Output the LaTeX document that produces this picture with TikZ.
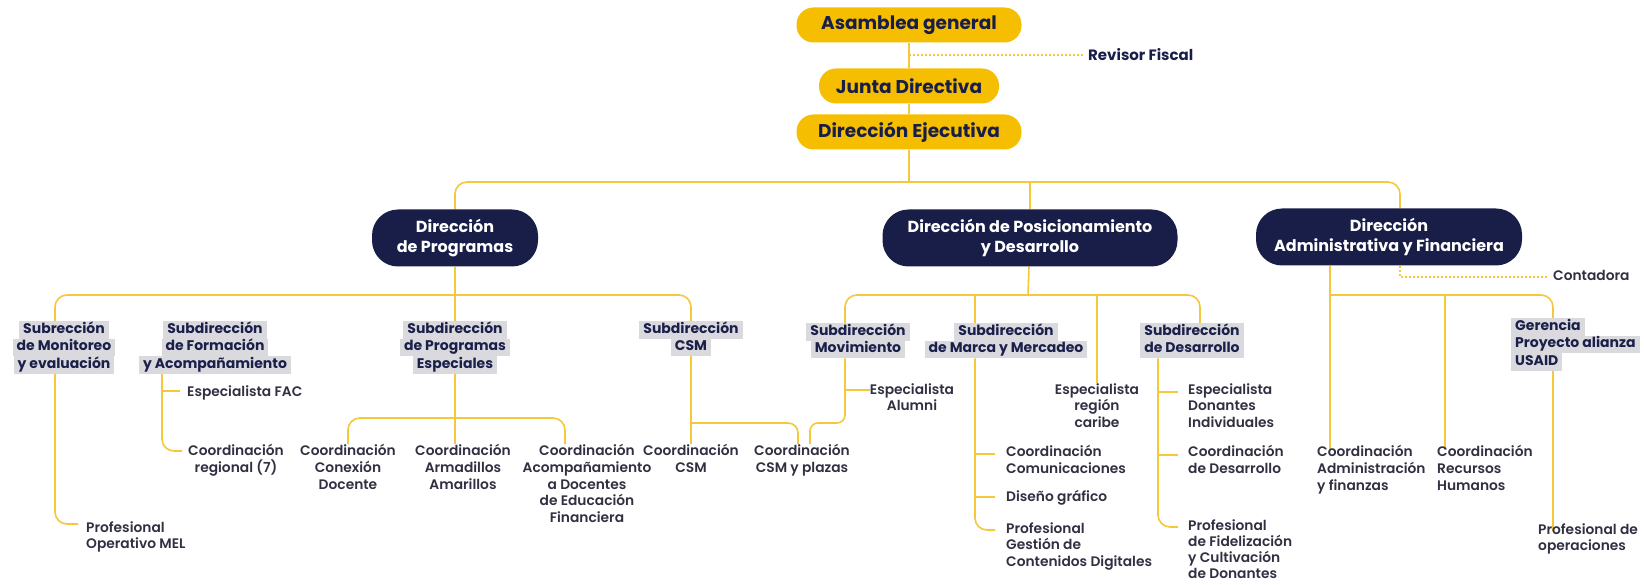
\documentclass[tikz,border=0pt]{standalone}
\usepackage{fontspec}
\setmainfont{Poppins}
\IfFontExistsTF{Poppins SemiBold}{\newfontfamily\semif{Poppins SemiBold}}{\newfontfamily\semif{Poppins}}
\usetikzlibrary{backgrounds}
\definecolor{pillY}{RGB}{246,190,0}
\definecolor{navy}{RGB}{24,30,72}
\definecolor{lineY}{RGB}{245,200,60}
\definecolor{hlgray}{RGB}{218,218,222}
\definecolor{txt}{RGB}{48,48,66}
\definecolor{subnavy}{RGB}{27,32,74}
\newcommand{\hl}[1]{{\setlength{\fboxsep}{0pt}\colorbox{hlgray}{\rule[-5.5pt]{0pt}{17.5pt}\hspace{4pt}#1\hspace{4pt}}}}
\tikzset{
  conn/.style={draw=lineY, line width=1.6pt},
  dotc/.style={draw=lineY, line width=1.4pt, dash pattern=on 2pt off 2pt},
  rc/.style={rounded corners=12pt},
  ypill/.style={fill=pillY, rounded corners=17pt, minimum height=35pt, text=navy, inner xsep=6pt,
    font=\bfseries\fontsize{18.5}{20}\selectfont},
  npill/.style={fill=navy, text=white, rounded corners=26pt, minimum height=57pt, align=center,
    font=\bfseries\fontsize{16}{20}\selectfont},
  subbox/.style={inner sep=0pt, align=center, text=subnavy, font=\bfseries\fontsize{14}{17.5}\selectfont},
  lbl/.style={inner sep=0pt, text=txt, font=\semif\fontsize{13.8}{16.8}\selectfont, execute at begin node=\strut},
  side/.style={inner sep=0pt, inner xsep=5pt, text=navy, font=\bfseries\fontsize{15}{17}\selectfont},
}
\begin{document}
\begin{tikzpicture}[x=1pt,y=-1pt]
\useasboundingbox (0,0) rectangle (1644,585);
% top pills
\node[ypill, minimum width=225pt] (AG) at (909,25) {Asamblea general};
\node[ypill, minimum width=180pt] (JD) at (909,86) {Junta Directiva};
\node[ypill, minimum width=225pt] (DE) at (909,132) {Dirección Ejecutiva};
\node[side, anchor=west] (RF) at (1083,55) {Revisor Fiscal};
% directions
\node[npill, minimum width=166pt] (DP) at (455,238) {Dirección\\de Programas};
\node[npill, minimum width=295pt] (DPD) at (1030,238) {Dirección de Posicionamiento\\y Desarrollo};
\node[npill, minimum width=266pt] (DAF) at (1389,237) {Dirección\\Administrativa y Financiera};
\node[lbl, anchor=west, inner xsep=5pt] (CONT) at (1548,277) {Contadora};
% sub-directions
\node[subbox, anchor=north] (SME) at (64,321) {\hl{Subrección}\\\hl{de Monitoreo}\\\hl{y evaluación}};
\node[subbox, anchor=north] (SFA) at (215,321) {\hl{Subdirección}\\\hl{de Formación}\\\hl{y Acompañamiento}};
\node[subbox, anchor=north] (SPE) at (455,321) {\hl{Subdirección}\\\hl{de Programas}\\\hl{Especiales}};
\node[subbox, anchor=north] (SCSM) at (691,321) {\hl{Subdirección}\\\hl{CSM}};
\node[subbox, anchor=north] (SMOV) at (858,323) {\hl{Subdirección}\\\hl{Movimiento}};
\node[subbox, anchor=north] (SMM) at (1006,323) {\hl{Subdirección}\\\hl{de Marca y Mercadeo}};
\node[subbox, anchor=north] (SDES) at (1192,323) {\hl{Subdirección}\\\hl{de Desarrollo}};
\node[subbox, align=left, anchor=north west] (SGER) at (1511,318) {\hl{Gerencia}\\\hl{Proyecto alianza}\\\hl{USAID}};
% labels
\node[lbl, anchor=north west] (EFAC) at (187,385) {Especialista FAC};
\node[lbl, align=center, anchor=north] (CREG) at (236,444) {Coordinación\\regional (7)};
\node[lbl, align=left, anchor=north west] (PMEL) at (86,521) {Profesional\\Operativo MEL};
\node[lbl, align=center, anchor=north] (CCD) at (348,444) {Coordinación\\Conexión\\Docente};
\node[lbl, align=center, anchor=north] (CAA) at (463,444) {Coordinación\\Armadillos\\Amarillos};
\node[lbl, align=center, anchor=north] (CAD) at (587,444) {Coordinación\\Acompañamiento\\a Docentes\\de Educación\\Financiera};
\node[lbl, align=center, anchor=north] (CCSM) at (691,444) {Coordinación\\CSM};
\node[lbl, align=center, anchor=north] (CCP) at (802,444) {Coordinación\\CSM y plazas};
\node[lbl, align=center, anchor=north] (EA) at (912,383) {Especialista\\Alumni};
\node[lbl, align=center, anchor=north] (ERC) at (1097,383) {Especialista\\región\\caribe};
\node[lbl, align=left, anchor=north west] (CCOM) at (1006,445) {Coordinación\\Comunicaciones};
\node[lbl, align=left, anchor=north west] (DG) at (1006,490) {Diseño gráfico};
\node[lbl, align=left, anchor=north west] (PGC) at (1006,522) {Profesional\\Gestión de\\Contenidos Digitales};
\node[lbl, align=left, anchor=north west] (EDI) at (1188,383) {Especialista\\Donantes\\Individuales};
\node[lbl, align=left, anchor=north west] (CDES) at (1188,445) {Coordinación\\de Desarrollo};
\node[lbl, align=left, anchor=north west, font=\semif\fontsize{13.8}{16.2}\selectfont] (PFC) at (1188,519) {Profesional\\de Fidelización\\y Cultivación\\de Donantes};
\node[lbl, align=left, anchor=north west] (CAF) at (1317,445) {Coordinación\\Administración\\y finanzas};
\node[lbl, align=left, anchor=north west] (CRH) at (1437,445) {Coordinación\\Recursos\\Humanos};
\node[lbl, align=left, anchor=north west] (POP) at (1538,523) {Profesional de\\operaciones};
% helper coordinates
\coordinate (b1) at (909,182);
\coordinate (b2) at (455,295);
\coordinate (b3) at (455,418);
\coordinate (b4) at (691,423);
\coordinate (b5) at (1028,295);
\coordinate (b6) at (1330,295);
\coordinate (rf0) at (909,55);
\coordinate (DAFa) at ([xshift=11pt]DAF.north);
\coordinate (ct0) at ([xshift=11pt]DAF.south);
\coordinate (DAFb) at ([xshift=-59pt]DAF.south);
\coordinate (SMEb) at ([xshift=-9pt]SME.south);
\coordinate (SMEa) at ([xshift=-9pt]SME.north);
\coordinate (mel1) at (78,524);
\coordinate (fa0) at ([xshift=-53pt]SFA.south);
\coordinate (fa1) at (182,451);
\coordinate (fa2) at (180,391);
\coordinate (CADa) at ([xshift=-22pt]CAD.north);
\coordinate (CCPa) at ([xshift=-4pt]CCP.north);
\coordinate (SMOVa) at ([xshift=-13pt]SMOV.north);
\coordinate (SMOVb) at ([xshift=-13pt]SMOV.south);
\coordinate (m2) at (810,423);
\coordinate (y390) at (0,390);
\coordinate (SDESa) at ([xshift=8pt]SDES.north);
\coordinate (SDESb) at ([xshift=-34pt]SDES.south);
\coordinate (SMMa) at ([xshift=-31pt]SMM.north);
\coordinate (SMMb) at ([xshift=-31pt]SMM.south);
\coordinate (cc1) at (995,454);
\coordinate (dg1) at (995,497);
\coordinate (pg1) at (995,530);
\coordinate (ed1) at (1178,392);
\coordinate (cd1) at (1178,455);
\coordinate (pf1) at (1178,527);
\coordinate (x1445) at (1445,295);
\coordinate (x1553) at (1553,0);
\begin{pgfonlayer}{background}
  \draw[conn] (AG) -- (JD);
  \draw[conn] (JD) -- (DE);
  \draw[dotc] (rf0) -- (RF);
  \draw[conn] (DE) -- (b1);
  \draw[conn, rc] (DP) |- (b1) -| (DAFa);
  \draw[conn] (b1 -| DPD) -- (DPD);
  \draw[dotc] (ct0) |- (CONT);
  % programas
  \draw[conn] (DP) -- (SPE);
  \draw[conn, rc] (SMEa) |- (b2) -| (SCSM);
  \draw[conn, rc] (SMEb) |- (mel1);
  \draw[conn, rc] (fa0) |- (fa1);
  \draw[conn] (fa0 |- fa2) -- (fa2);
  \draw[conn, rc] (CCD) |- (b3) -| (CADa);
  \draw[conn] (SPE) -- (SPE |- CAA.north);
  \draw[conn] (SCSM) -- (CCSM);
  \draw[conn, rounded corners=10pt] (b4) -| (CCPa);
  % posicionamiento
  \draw[conn] (DPD) -- (b5);
  \draw[conn, rc] (SMOVa) |- (b5) -| (SDESa);
  \draw[conn, rounded corners=8pt] (SMOVb) |- (m2) -- (m2 |- CCP.north);
  \draw[conn] (SMOVb |- y390) -- (EA.west |- y390);
  \draw[conn] (SMMa |- b5) -- (SMMa);
  \draw[conn, rc] (SMMb) |- (pg1);
  \draw[conn] (SMMb |- cc1) -- (cc1);
  \draw[conn] (SMMb |- dg1) -- (dg1);
  \draw[conn] (ERC |- b5) -- (ERC);
  \draw[conn, rc] (SDESb) |- (pf1);
  \draw[conn] (SDESb |- ed1) -- (ed1);
  \draw[conn] (SDESb |- cd1) -- (cd1);
  % administrativa
  \draw[conn] (DAFb) -- ([yshift=-5pt]DAFb |- CAF.north);
  \draw[conn, rc] (b6) -| (x1553 |- SGER.north);
  \draw[conn] (x1445) -- ([yshift=-5pt]x1445 |- CRH.north);
  \draw[conn] (x1553 |- SGER.south) -- ([yshift=-8pt]x1553 |- POP.north);
\end{pgfonlayer}
\end{tikzpicture}
\end{document}
